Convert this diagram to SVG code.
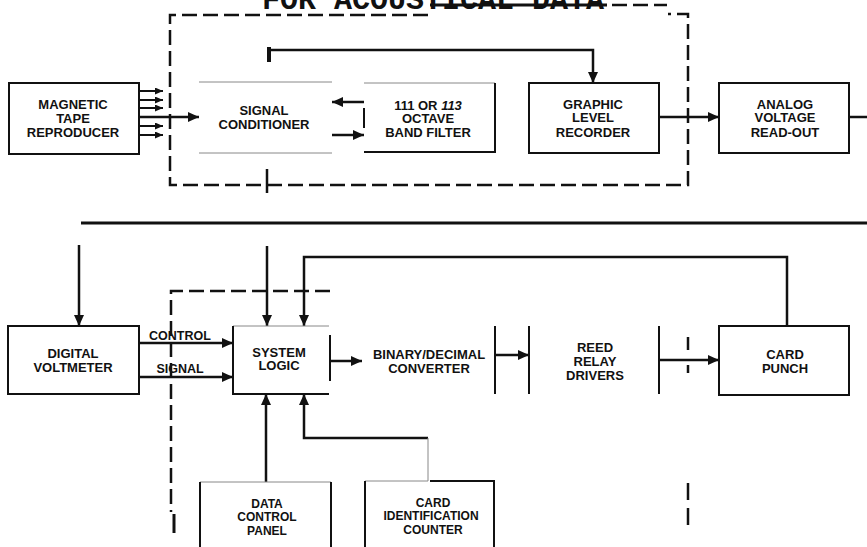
<svg xmlns="http://www.w3.org/2000/svg" width="867" height="547" viewBox="0 0 867 547">
<style>
text{font-family:"Liberation Sans",Arial,sans-serif;font-weight:bold;font-size:13px;fill:#111;text-anchor:middle}
.title{font-family:"Liberation Mono","Courier New",monospace;font-size:30px;text-anchor:start}
.box{fill:none;stroke:#111;stroke-width:2}
.faint{fill:none;stroke:#888;stroke-width:1}
.ln{fill:none;stroke:#111;stroke-width:2.5}
.arr{fill:none;stroke:#111;stroke-width:2.5;marker-end:url(#ah)}
.sarr{fill:none;stroke:#111;stroke-width:2;marker-end:url(#sh)}
.dash{fill:none;stroke:#111;stroke-width:2.5;stroke-dasharray:15 6}
.lbl{font-size:12.5px}
.sm{font-size:12px}
</style>
<defs>
<marker id="ah" markerUnits="userSpaceOnUse" markerWidth="11" markerHeight="10" refX="11" refY="5" orient="auto"><path d="M0,0 L11,5 L0,10 z" fill="#111"/></marker>
<marker id="sh" markerUnits="userSpaceOnUse" markerWidth="8" markerHeight="7" refX="8" refY="3.5" orient="auto"><path d="M0,0 L8,3.5 L0,7 z" fill="#111"/></marker>
</defs>

<g id="title">
<text class="title" x="262" y="9">FOR ACOUSTICAL DATA</text>
</g>

<g id="enclosures">
<path class="dash" d="M428,15 H170 V185 H688 V14 H668"/>
<line x1="430" y1="5" x2="607" y2="5" stroke="#111" stroke-width="3"/>
<path class="dash" d="M612,5 H667"/>
<line x1="267" y1="169" x2="267" y2="193" stroke="#111" stroke-width="2.5"/>
<path class="dash" d="M330,291 H171 V512"/>
<line x1="174" y1="514" x2="174" y2="533" stroke="#111" stroke-width="3"/>
<line x1="688" y1="337" x2="688" y2="350" stroke="#111" stroke-width="2.5"/>
<line x1="688" y1="365" x2="688" y2="373" stroke="#111" stroke-width="2.5"/>
<line x1="688" y1="483" x2="688" y2="500" stroke="#111" stroke-width="2.5"/>
<line x1="688" y1="508" x2="688" y2="525" stroke="#111" stroke-width="2.5"/>
</g>

<g id="connectors">
<line class="sarr" x1="139" y1="91" x2="163" y2="91"/>
<line class="sarr" x1="139" y1="100" x2="163" y2="100"/>
<line class="sarr" x1="139" y1="108" x2="163" y2="108"/>
<line class="sarr" x1="139" y1="126" x2="163" y2="126"/>
<line class="sarr" x1="139" y1="135" x2="163" y2="135"/>
<line class="arr" x1="139" y1="117" x2="199" y2="117"/>
<line class="arr" x1="364" y1="102" x2="332" y2="102"/>
<line class="arr" x1="332" y1="135" x2="364" y2="135"/>
<path class="arr" d="M269,62 V50 H593 V83"/>
<line x1="269" y1="47" x2="269" y2="62" stroke="#111" stroke-width="4"/>
<line class="arr" x1="659" y1="117" x2="719" y2="117"/>
<line class="ln" x1="849" y1="117" x2="867" y2="117"/>
<line x1="81" y1="223" x2="867" y2="223" stroke="#111" stroke-width="3"/>
<line class="arr" x1="79" y1="245" x2="79" y2="326"/>
<line class="arr" x1="267" y1="246" x2="267" y2="326"/>
<path class="arr" d="M787,326 V257 H304 V326"/>
<line class="arr" x1="139" y1="343" x2="233" y2="343"/>
<line class="arr" x1="139" y1="377" x2="233" y2="377"/>
<line class="arr" x1="331" y1="361" x2="362" y2="361"/>
<line class="arr" x1="495" y1="355" x2="529" y2="355"/>
<line class="arr" x1="659" y1="360" x2="719" y2="360"/>
<line class="arr" x1="266" y1="482" x2="266" y2="394"/>
<path class="arr" d="M428,438 H304 V394"/>
<line class="faint" x1="428" y1="438" x2="428" y2="481"/>
</g>

<g id="magnetic-tape-reproducer">
<rect class="box" x="9" y="83" width="130" height="71"/>
<text x="73" y="108.5">MAGNETIC</text>
<text x="73" y="122.5">TAPE</text>
<text x="73" y="137">REPRODUCER</text>
</g>

<g id="signal-conditioner">
<line class="faint" x1="199" y1="82" x2="332" y2="82"/>
<line class="faint" x1="199" y1="153" x2="332" y2="153"/>
<text x="264" y="114.5">SIGNAL</text>
<text x="264" y="128.5">CONDITIONER</text>
</g>

<g id="octave-band-filter">
<line class="faint" x1="364" y1="83" x2="495" y2="83"/>
<path class="box" d="M495,83 V152 H364"/>
<line x1="364" y1="108" x2="364" y2="128" stroke="#111" stroke-width="2"/>
<text x="428" y="109.5">111 OR <tspan font-style="italic">113</tspan></text>
<text x="428" y="123">OCTAVE</text>
<text x="428" y="137">BAND  FILTER</text>
</g>

<g id="graphic-level-recorder">
<rect class="box" x="529" y="83" width="130" height="70"/>
<text x="593" y="108.5">GRAPHIC</text>
<text x="593" y="122">LEVEL</text>
<text x="593" y="136.5">RECORDER</text>
</g>

<g id="analog-voltage-read-out">
<rect class="box" x="719" y="83" width="130" height="70"/>
<text x="785" y="108.5">ANALOG</text>
<text x="785" y="122">VOLTAGE</text>
<text x="785" y="136.5">READ-OUT</text>
</g>

<g id="digital-voltmeter">
<rect class="box" x="8" y="326" width="131" height="68"/>
<text x="73" y="357.5">DIGITAL</text>
<text x="73" y="371.5">VOLTMETER</text>
<text class="lbl" x="180" y="339.5">CONTROL</text>
<text class="lbl" x="180" y="372.5">SIGNAL</text>
</g>

<g id="system-logic">
<line class="faint" x1="233" y1="326" x2="329" y2="326"/>
<path class="box" d="M233,326 V394 H329"/>
<line x1="330" y1="335" x2="330" y2="381" stroke="#111" stroke-width="2"/>
<text x="279" y="356.5">SYSTEM</text>
<text x="279" y="370">LOGIC</text>
</g>

<g id="binary-decimal-converter">
<line x1="495" y1="326" x2="495" y2="394" stroke="#111" stroke-width="2"/>
<text x="429" y="358.5">BINARY/DECIMAL</text>
<text x="429" y="372.5">CONVERTER</text>
</g>

<g id="reed-relay-drivers">
<line x1="529" y1="326" x2="529" y2="394" stroke="#111" stroke-width="2"/>
<line x1="659" y1="326" x2="659" y2="394" stroke="#111" stroke-width="2"/>
<text x="595" y="351.5">REED</text>
<text x="595" y="365.5">RELAY</text>
<text x="595" y="380">DRIVERS</text>
</g>

<g id="card-punch">
<rect class="box" x="719" y="326" width="130" height="69"/>
<text x="785" y="358.5">CARD</text>
<text x="785" y="372.5">PUNCH</text>
</g>

<g id="data-control-panel">
<path class="faint" d="M200,482 H331"/>
<path class="box" d="M200,550 V482 M331,482 V550"/>
<text class="sm" x="267" y="507.5">DATA</text>
<text class="sm" x="267" y="521">CONTROL</text>
<text class="sm" x="267" y="534.5">PANEL</text>
</g>

<g id="card-identification-counter">
<line class="faint" x1="365" y1="481" x2="428" y2="481"/>
<path class="box" d="M365,550 V481 M430,481 H494 V550"/>
<text class="sm" x="433" y="506.5">CARD</text>
<text class="sm" x="431" y="520">IDENTIFICATION</text>
<text class="sm" x="433" y="533.5">COUNTER</text>
</g>
</svg>
